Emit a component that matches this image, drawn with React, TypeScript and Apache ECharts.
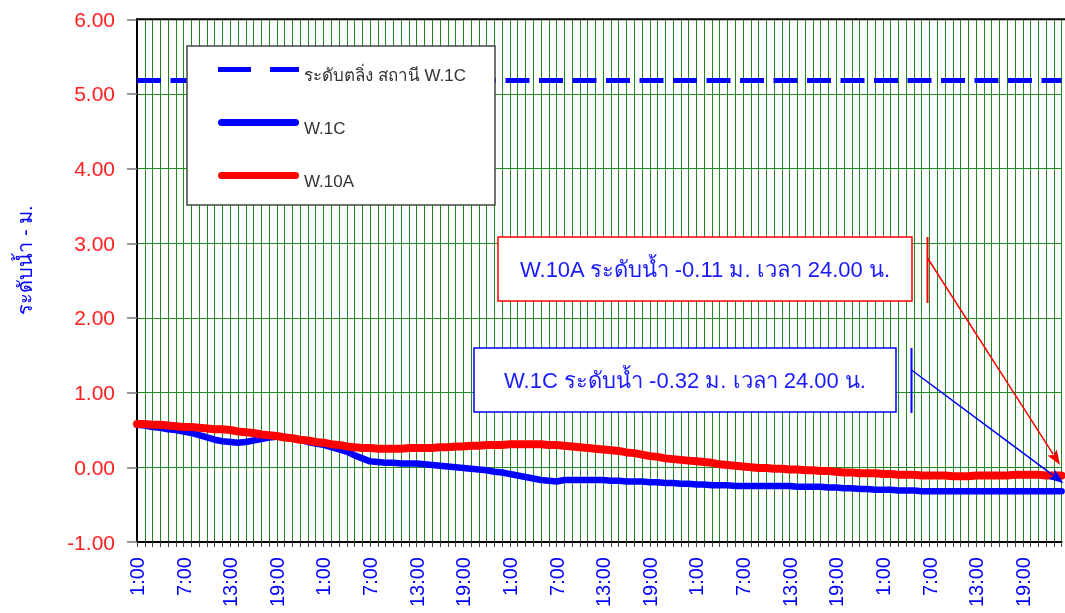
import React, { useEffect, useRef } from "react";
import * as echarts from "echarts";

const DAY_HOURS = [
  "1:00", "2:00", "3:00", "4:00", "5:00", "6:00", "7:00", "8:00", "9:00", "10:00", "11:00", "12:00",
  "13:00", "14:00", "15:00", "16:00", "17:00", "18:00", "19:00", "20:00", "21:00", "22:00", "23:00", "24:00",
];
const DAY_COUNT = 5;
const CATEGORIES: string[] = [];
for (let d = 0; d < DAY_COUNT; d++) CATEGORIES.push(...DAY_HOURS);

const W10A = [
  0.58, 0.58, 0.57, 0.57, 0.56, 0.55, 0.54, 0.54, 0.53, 0.52,
  0.51, 0.51, 0.50, 0.48, 0.47, 0.46, 0.44, 0.43, 0.42, 0.40,
  0.39, 0.37, 0.36, 0.34, 0.33, 0.31, 0.30, 0.28, 0.27, 0.26,
  0.26, 0.25, 0.25, 0.25, 0.25, 0.26, 0.26, 0.26, 0.26, 0.27,
  0.27, 0.28, 0.28, 0.29, 0.29, 0.30, 0.30, 0.30, 0.31, 0.31,
  0.31, 0.31, 0.31, 0.30, 0.30, 0.29, 0.28, 0.27, 0.26, 0.25,
  0.24, 0.23, 0.22, 0.20, 0.19, 0.17, 0.15, 0.14, 0.12, 0.11,
  0.10, 0.09, 0.08, 0.07, 0.06, 0.04, 0.03, 0.02, 0.01, 0.00,
  -0.01, -0.01, -0.02, -0.02, -0.03, -0.03, -0.04, -0.04, -0.05, -0.05,
  -0.06, -0.07, -0.07, -0.08, -0.08, -0.08, -0.09, -0.09, -0.10, -0.10,
  -0.10, -0.11, -0.11, -0.11, -0.11, -0.12, -0.12, -0.12, -0.11, -0.11,
  -0.11, -0.11, -0.11, -0.10, -0.10, -0.10, -0.10, -0.11, -0.11, -0.11,
];

const W1C = [
  0.57, 0.56, 0.54, 0.53, 0.51, 0.50, 0.48, 0.46, 0.43, 0.40,
  0.37, 0.35, 0.34, 0.33, 0.34, 0.36, 0.38, 0.40, 0.41, 0.41,
  0.39, 0.37, 0.34, 0.32, 0.30, 0.27, 0.24, 0.21, 0.16, 0.12,
  0.08, 0.07, 0.06, 0.06, 0.05, 0.05, 0.05, 0.04, 0.03, 0.02,
  0.01, 0.00, -0.01, -0.02, -0.03, -0.04, -0.06, -0.07, -0.09, -0.11,
  -0.13, -0.15, -0.17, -0.18, -0.19, -0.17, -0.17, -0.17, -0.17, -0.17,
  -0.17, -0.18, -0.18, -0.19, -0.19, -0.19, -0.20, -0.20, -0.21, -0.21,
  -0.22, -0.22, -0.23, -0.23, -0.24, -0.24, -0.24, -0.25, -0.25, -0.25,
  -0.25, -0.25, -0.25, -0.25, -0.25, -0.26, -0.26, -0.26, -0.26, -0.27,
  -0.27, -0.28, -0.28, -0.29, -0.29, -0.30, -0.30, -0.30, -0.31, -0.31,
  -0.31, -0.32, -0.32, -0.32, -0.32, -0.32, -0.32, -0.32, -0.32, -0.32,
  -0.32, -0.32, -0.32, -0.32, -0.32, -0.32, -0.32, -0.32, -0.32, -0.32,
];

const BANK_LEVEL = 5.19;
const Y_MIN = -1;
const Y_MAX = 6;
const Y_STEP = 1;

const BANK_NAME = "ระดับตลิ่ง สถานี W.1C";
const W1C_NAME = "W.1C";
const W10A_NAME = "W.10A";
const Y_NAME = "ระดับน้ำ - ม.";
const NOTE_W10A = "W.10A ระดับน้ำ -0.11 ม. เวลา 24.00 น.";
const NOTE_W1C = "W.1C ระดับน้ำ -0.32 ม. เวลา 24.00 น.";

const FONT = 'Tahoma, "Liberation Sans", "Noto Sans", sans-serif';
const BLUE = "#0000ff";
const RED = "#ff0000";
const GRID_GREEN = "#1f8a1f";

const ROUND_ICON =
  "path://M3.5,0H77.5A3.5,3.5,0,0,1,77.5,7H3.5A3.5,3.5,0,0,1,3.5,0Z";
const DASH_ICON = "path://M0,0M81,7M0,1H33V6H0ZM52,1H81V6H52Z";

function arrow(sx: number, sy: number, tx: number, ty: number, color: string) {
  const dx = tx - sx;
  const dy = ty - sy;
  const len = Math.sqrt(dx * dx + dy * dy);
  const ux = dx / len;
  const uy = dy / len;
  const nx = -uy;
  const ny = ux;
  const hl = 15;
  const hw = 5.5;
  const bx = tx - ux * hl;
  const by = ty - uy * hl;
  return [
    {
      type: "line",
      z: 20,
      shape: { x1: sx, y1: sy, x2: bx + ux * 2, y2: by + uy * 2 },
      style: { stroke: color, lineWidth: 1.5 },
    },
    {
      type: "polygon",
      z: 20,
      shape: {
        points: [
          [tx, ty],
          [bx + nx * hw, by + ny * hw],
          [bx + ux * 3, by + uy * 3],
          [bx - nx * hw, by - ny * hw],
        ],
      },
      style: { fill: color },
    },
  ];
}

export default function App() {
  const ref = useRef<HTMLDivElement>(null);

  useEffect(() => {
    if (!ref.current) return;
    const chart = echarts.init(ref.current, null, { renderer: "svg" });
    chart.setOption({
      animation: false,
      textStyle: { fontFamily: FONT },
      grid: { left: 137, top: 19.3, right: 3.4, bottom: 71, containLabel: false },
      xAxis: {
        type: "category",
        data: CATEGORIES,
        boundaryGap: false,
        axisLine: { onZero: false, lineStyle: { color: "#000", width: 2 } },
        axisTick: { show: true, interval: 0, length: 5, lineStyle: { color: "#444" } },
        axisLabel: {
          interval: 5,
          rotate: 90,
          margin: 15,
          color: BLUE,
          fontSize: 20,
          fontFamily: FONT,
        },
        splitLine: { show: true, interval: 0, lineStyle: { color: GRID_GREEN, width: 1 } },
      },
      yAxis: {
        type: "value",
        min: Y_MIN,
        max: Y_MAX,
        interval: Y_STEP,
        axisLine: { show: true, onZero: false, lineStyle: { color: "#000", width: 2 } },
        axisTick: { show: true, length: 10, lineStyle: { color: "#777", width: 1.5 } },
        axisLabel: {
          margin: 22,
          color: "#ff2020",
          fontSize: 21,
          fontFamily: FONT,
          formatter: (v: number) => v.toFixed(2),
        },
        splitLine: { show: true, lineStyle: { color: GRID_GREEN, width: 1 } },
      },
      legend: {
        orient: "vertical",
        left: 218,
        top: 66,
        z: 8,
        itemWidth: 81,
        itemHeight: 7,
        itemGap: 35,
        padding: 0,
        symbolKeepAspect: false,
        selectedMode: false,
        itemStyle: { borderWidth: 0 },
        formatter: (name: string) => `{t|${name}}`,
        textStyle: {
          color: "#333",
          fontSize: 17,
          fontFamily: FONT,
          rich: {
            t: { color: "#333", fontSize: 17, fontFamily: FONT, padding: [12, 0, 0, 0] },
          },
        },
        data: [
          { name: BANK_NAME, icon: DASH_ICON, itemStyle: { color: BLUE, borderWidth: 0 } },
          { name: W1C_NAME, icon: ROUND_ICON, itemStyle: { color: BLUE, borderWidth: 0 } },
          { name: W10A_NAME, icon: ROUND_ICON, itemStyle: { color: RED, borderWidth: 0 } },
        ],
      },
      series: [
        {
          name: BANK_NAME,
          type: "line",
          data: [],
          color: BLUE,
          symbol: "none",
          markLine: {
            silent: true,
            symbol: "none",
            z: 5,
            label: { show: false },
            lineStyle: { color: BLUE, width: 5, type: [24, 9.5] },
            data: [{ yAxis: BANK_LEVEL }],
          },
        },
        {
          name: W1C_NAME,
          type: "line",
          data: W1C,
          color: BLUE,
          symbol: "none",
          z: 3,
          lineStyle: { width: 6.5, color: BLUE, cap: "round", join: "round" },
        },
        {
          name: W10A_NAME,
          type: "line",
          data: W10A,
          color: RED,
          symbol: "none",
          z: 4,
          lineStyle: { width: 8, color: RED, cap: "round", join: "round" },
        },
      ],
    });

    const last = CATEGORIES.length - 1;
    const pRed = chart.convertToPixel({ xAxisIndex: 0, yAxisIndex: 0 }, [last, W10A[last]]) as number[];
    const pBlue = chart.convertToPixel({ xAxisIndex: 0, yAxisIndex: 0 }, [last, W1C[last]]) as number[];
    const topY = chart.convertToPixel({ yAxisIndex: 0 }, Y_MAX) as number;
    const leftX = chart.convertToPixel({ xAxisIndex: 0 }, 0) as number;

    chart.setOption({
      graphic: [
        {
          type: "line",
          z: 10,
          shape: { x1: leftX - 1, y1: topY, x2: 1065, y2: topY },
          style: { stroke: "#000", lineWidth: 2 },
        },
        {
          type: "rect",
          z: 7,
          shape: { x: 187, y: 46, width: 308, height: 159 },
          style: { fill: "#fff", stroke: "#444", lineWidth: 1.5 },
        },
        {
          type: "text",
          z: 10,
          x: 25,
          y: 260,
          rotation: Math.PI / 2,
          style: {
            text: Y_NAME,
            fill: BLUE,
            font: `20px ${FONT}`,
            align: "center",
            verticalAlign: "middle",
          },
        },
        {
          type: "rect",
          z: 15,
          shape: { x: 498, y: 237, width: 414, height: 64 },
          style: { fill: "#fff", stroke: RED, lineWidth: 1.5 },
        },
        {
          type: "text",
          z: 16,
          x: 705,
          y: 269,
          style: {
            text: NOTE_W10A,
            fill: "#1a1aff",
            font: `22px ${FONT}`,
            align: "center",
            verticalAlign: "middle",
          },
        },
        {
          type: "rect",
          z: 15,
          shape: { x: 474, y: 348, width: 422, height: 64 },
          style: { fill: "#fff", stroke: BLUE, lineWidth: 1.5 },
        },
        {
          type: "text",
          z: 16,
          x: 685,
          y: 380,
          style: {
            text: NOTE_W1C,
            fill: "#1a1aff",
            font: `22px ${FONT}`,
            align: "center",
            verticalAlign: "middle",
          },
        },
        {
          type: "line",
          z: 20,
          shape: { x1: 927.5, y1: 237, x2: 927.5, y2: 303 },
          style: { stroke: RED, lineWidth: 2 },
        },
        {
          type: "line",
          z: 20,
          shape: { x1: 911.5, y1: 348, x2: 911.5, y2: 413 },
          style: { stroke: BLUE, lineWidth: 2 },
        },
        ...arrow(927.5, 258, pRed[0] - 1.5, pRed[1] - 10.5, RED),
        ...arrow(911.5, 370, pBlue[0] + 2, pBlue[1] - 8, BLUE),
      ],
    });

    return () => chart.dispose();
  }, []);

  return (
    <div
      ref={ref}
      style={{ position: "fixed", left: 0, top: 0, width: 1065, height: 613 }}
    />
  );
}
